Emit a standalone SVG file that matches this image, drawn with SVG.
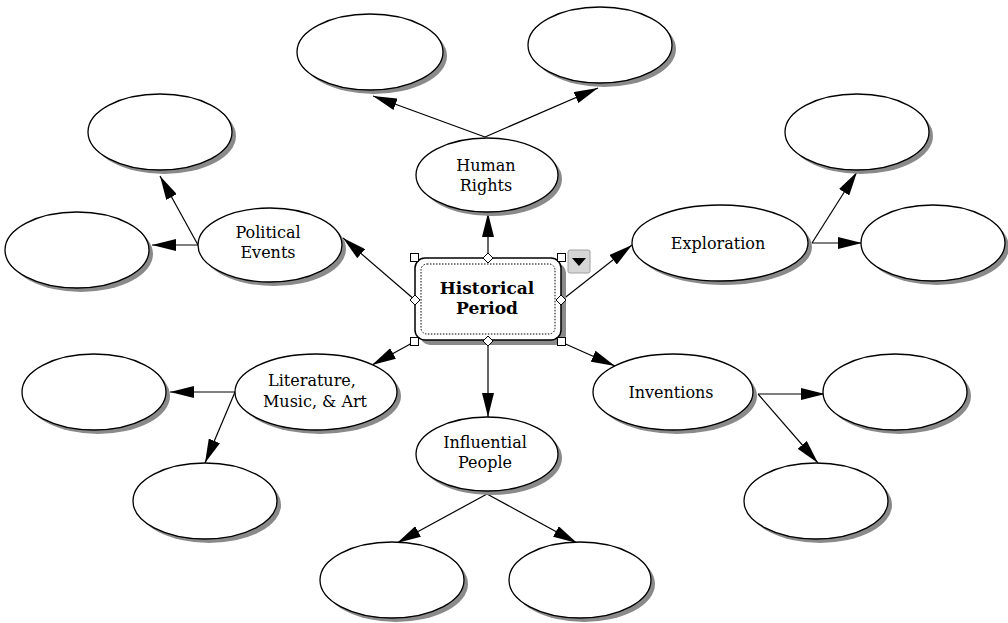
<svg xmlns="http://www.w3.org/2000/svg" width="1008" height="623" viewBox="0 0 1008 623">
<defs>
<style>
.sh{fill:#8a8a8a;stroke:none}
.el{fill:#fff;stroke:#000;stroke-width:1.3}
.lb{font-family:"DejaVu Serif","Liberation Serif",serif;font-size:16px;fill:#000;text-anchor:middle}
.bd{font-family:"DejaVu Serif","Liberation Serif",serif;font-size:17px;font-weight:bold;fill:#000;text-anchor:middle}
.cn{stroke:#000;stroke-width:1.2;fill:none;marker-end:url(#ah)}
.hd{fill:#fff;stroke:#000;stroke-width:1}
</style>
<marker id="ah" viewBox="0 0 24 12" refX="24" refY="6" markerWidth="24" markerHeight="12" markerUnits="userSpaceOnUse" orient="auto">
<path d="M0,0 L24,6 L0,12 z" fill="#000"/>
</marker>
</defs>
<rect width="1008" height="623" fill="#fff"/>

<g id="connectors">
<line class="cn" x1="488" y1="258" x2="488" y2="213"/>
<line class="cn" x1="485" y1="137" x2="373" y2="96"/>
<line class="cn" x1="485" y1="137" x2="598" y2="88"/>
<line class="cn" x1="415" y1="300" x2="343" y2="238"/>
<line class="cn" x1="198" y1="245" x2="152" y2="245"/>
<line class="cn" x1="198" y1="245" x2="160" y2="176"/>
<line class="cn" x1="562" y1="300" x2="632" y2="245"/>
<line class="cn" x1="812" y1="243" x2="862" y2="243"/>
<line class="cn" x1="812" y1="243" x2="857" y2="172"/>
<line class="cn" x1="561" y1="342" x2="615" y2="366"/>
<line class="cn" x1="758" y1="394" x2="825" y2="394"/>
<line class="cn" x1="758" y1="394" x2="818" y2="463"/>
<line class="cn" x1="414" y1="342" x2="372" y2="365"/>
<line class="cn" x1="235" y1="392" x2="170" y2="392"/>
<line class="cn" x1="235" y1="392" x2="205" y2="463"/>
<line class="cn" x1="488" y1="342" x2="488" y2="417"/>
<line class="cn" x1="487" y1="494" x2="397" y2="543"/>
<line class="cn" x1="487" y1="494" x2="577" y2="543"/>
</g>

<g id="human-rights">
<ellipse class="sh" cx="491" cy="179" rx="71" ry="37"/>
<ellipse class="el" cx="487" cy="175" rx="71" ry="37"/>
<text class="lb" x="486" y="171">Human</text>
<text class="lb" x="486" y="191">Rights</text>
</g>
<g id="hr-left">
<ellipse class="sh" cx="374" cy="56" rx="73" ry="38"/>
<ellipse class="el" cx="370" cy="52" rx="73" ry="38"/>
</g>
<g id="hr-right">
<ellipse class="sh" cx="604" cy="49" rx="72" ry="38"/>
<ellipse class="el" cx="600" cy="45" rx="72" ry="38"/>
</g>

<g id="political-events">
<ellipse class="sh" cx="274" cy="249" rx="72" ry="37"/>
<ellipse class="el" cx="270" cy="245" rx="72" ry="37"/>
<text class="lb" x="268" y="238">Political</text>
<text class="lb" x="268" y="258">Events</text>
</g>
<g id="pe-top">
<ellipse class="sh" cx="164" cy="136" rx="72" ry="38"/>
<ellipse class="el" cx="160" cy="132" rx="72" ry="38"/>
</g>
<g id="pe-left">
<ellipse class="sh" cx="81" cy="254" rx="72" ry="38"/>
<ellipse class="el" cx="77" cy="250" rx="72" ry="38"/>
</g>

<g id="exploration">
<ellipse class="sh" cx="724" cy="247" rx="88" ry="38"/>
<ellipse class="el" cx="720" cy="243" rx="88" ry="38"/>
<text class="lb" x="718" y="249">Exploration</text>
</g>
<g id="ex-top">
<ellipse class="sh" cx="861" cy="136" rx="72" ry="38"/>
<ellipse class="el" cx="857" cy="132" rx="72" ry="38"/>
</g>
<g id="ex-right">
<ellipse class="sh" cx="937" cy="247" rx="72" ry="38"/>
<ellipse class="el" cx="933" cy="243" rx="72" ry="38"/>
</g>

<g id="inventions">
<ellipse class="sh" cx="677" cy="396" rx="80" ry="38"/>
<ellipse class="el" cx="673" cy="392" rx="80" ry="38"/>
<text class="lb" x="671" y="398">Inventions</text>
</g>
<g id="in-right">
<ellipse class="sh" cx="899" cy="396" rx="72" ry="38"/>
<ellipse class="el" cx="895" cy="392" rx="72" ry="38"/>
</g>
<g id="in-bottom">
<ellipse class="sh" cx="820" cy="505" rx="72" ry="38"/>
<ellipse class="el" cx="816" cy="501" rx="72" ry="38"/>
</g>

<g id="literature">
<ellipse class="sh" cx="320" cy="396" rx="81" ry="38"/>
<ellipse class="el" cx="316" cy="392" rx="81" ry="38"/>
<text class="lb" x="312" y="386">Literature,</text>
<text class="lb" x="315" y="407">Music, &amp; Art</text>
</g>
<g id="li-left">
<ellipse class="sh" cx="98" cy="396" rx="72" ry="38"/>
<ellipse class="el" cx="94" cy="392" rx="72" ry="38"/>
</g>
<g id="li-bottom">
<ellipse class="sh" cx="209" cy="505" rx="72" ry="38"/>
<ellipse class="el" cx="205" cy="501" rx="72" ry="38"/>
</g>

<g id="influential-people">
<ellipse class="sh" cx="491" cy="458" rx="71" ry="37"/>
<ellipse class="el" cx="487" cy="454" rx="71" ry="37"/>
<text class="lb" x="485" y="448">Influential</text>
<text class="lb" x="485" y="468">People</text>
</g>
<g id="ip-left">
<ellipse class="sh" cx="396" cy="584" rx="72" ry="38"/>
<ellipse class="el" cx="392" cy="580" rx="72" ry="38"/>
</g>
<g id="ip-right">
<ellipse class="sh" cx="584" cy="584" rx="71" ry="38"/>
<ellipse class="el" cx="580" cy="580" rx="71" ry="38"/>
</g>

<g id="historical-period">
<rect x="420" y="263" width="146" height="82" rx="10" fill="#8a8a8a"/>
<rect x="415" y="258" width="146" height="82" rx="10" fill="#fff" stroke="#000" stroke-width="1.5"/>
<rect x="421" y="264" width="134" height="70" rx="6" fill="none" stroke="#000" stroke-width="1" stroke-dasharray="1.5,1.5"/>
<text class="bd" x="487" y="294">Historical</text>
<text class="bd" x="487" y="314">Period</text>
<rect class="hd" x="410.5" y="253.5" width="8" height="8"/>
<rect class="hd" x="557.5" y="253.5" width="8" height="8"/>
<rect class="hd" x="410.5" y="337.5" width="8" height="8"/>
<rect class="hd" x="557.5" y="337.5" width="8" height="8"/>
<path class="hd" d="M488,253 L493,258 L488,263 L483,258 z"/>
<path class="hd" d="M488,336 L493,341 L488,346 L483,341 z"/>
<path class="hd" d="M415,295 L420,300 L415,305 L410,300 z"/>
<path class="hd" d="M561,295 L566,300 L561,305 L556,300 z"/>
<rect x="568" y="250" width="22" height="23" rx="2" fill="#d6d6d6" stroke="#a0a0a0" stroke-width="1"/>
<path d="M572,258 L586,258 L579,266 z" fill="#000"/>
</g>
</svg>
